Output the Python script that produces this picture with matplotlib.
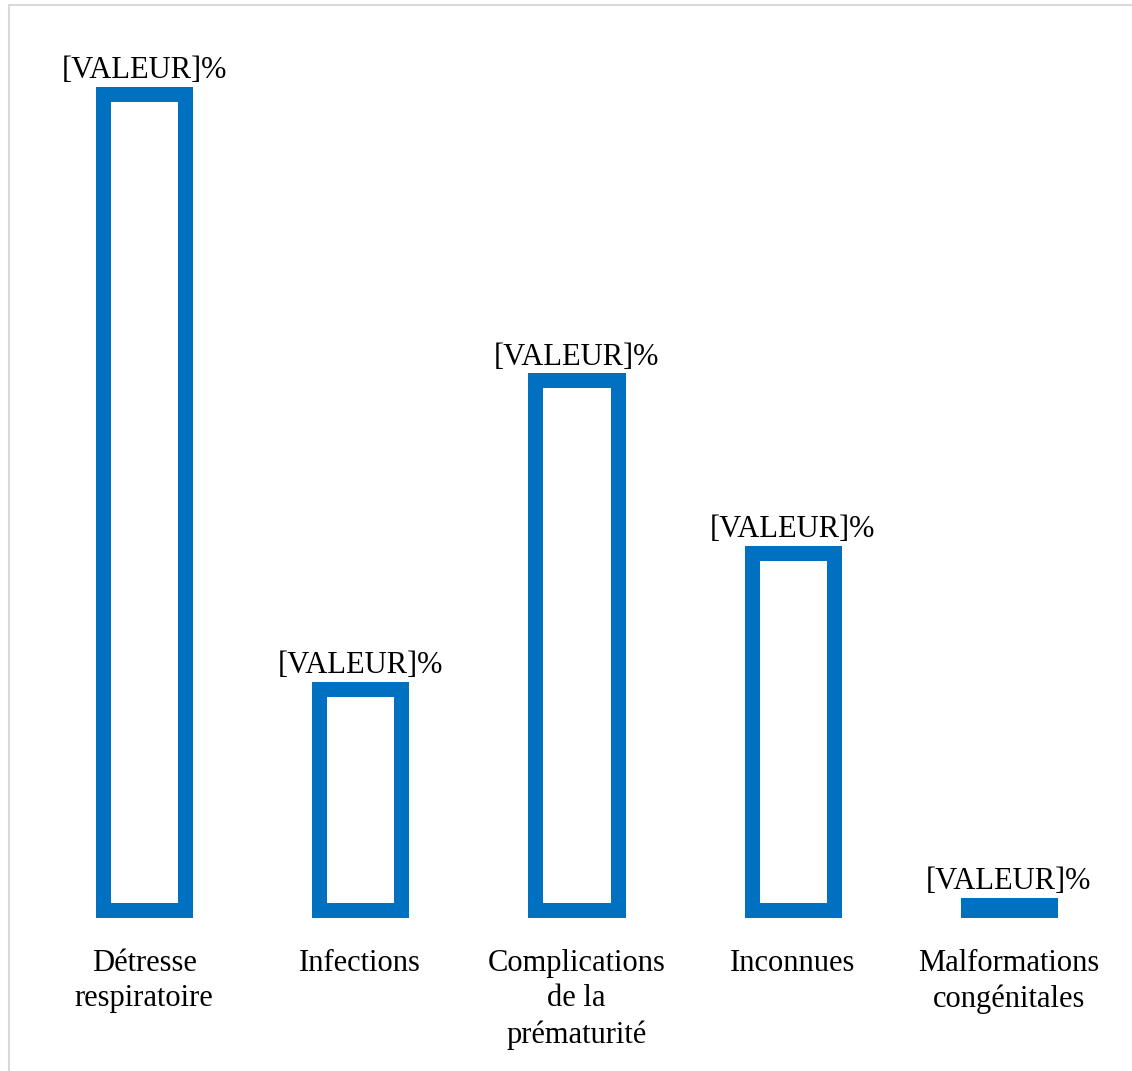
import matplotlib.pyplot as plt
from matplotlib.lines import Line2D

plt.rcParams['font.family'] = ['Liberation Serif', 'DejaVu Serif']

# data
categories = ['Détresse\nrespiratoire', 'Infections', 'Complications\nde la\nprématurité',
              'Inconnues', 'Malformations\ncongénitales']
values = [45.0, 12.2, 29.2, 19.7, 0.3]
labels = ['[VALEUR]%'] * 5

blue = '#0070C0'

fig = plt.figure(figsize=(11.32, 10.71), dpi=100)
ax = fig.add_axes([36 / 1132, 1 - 910 / 1071, 1081 / 1132, 850 / 1071])

x = range(len(categories))
ax.bar(x, values, width=0.38, facecolor='white', edgecolor=blue, linewidth=10.8,
       clip_on=False)
# last bar is nearly flat: drawn as a solid block
ax.bar(x[-1], values[-1], width=0.38, facecolor=blue, edgecolor=blue, linewidth=10.8,
       clip_on=False)

for xi, v, lab in zip(x, values, labels):
    ax.annotate(lab, (xi, v), xytext=(0, 11), textcoords='offset points',
                ha='center', va='baseline', fontsize=22)

ax.set_xlim(-0.5, 4.5)
ax.set_ylim(0, 46.85)
ax.set_xticks(list(x))
ax.set_xticklabels(categories, fontsize=22, linespacing=1.3)
ax.tick_params(axis='x', length=0, pad=28)
ax.set_yticks([])
for s in ax.spines.values():
    s.set_visible(False)

# light border of the chart area
fig.add_artist(Line2D([9 / 1132, 9 / 1132], [0, 1 - 5 / 1071], color='#d9d9d9', lw=1.5,
                      transform=fig.transFigure))
fig.add_artist(Line2D([9 / 1132, 1], [1 - 5 / 1071, 1 - 5 / 1071], color='#d9d9d9', lw=1.5,
                      transform=fig.transFigure))

fig.savefig('out.png', dpi=100)
